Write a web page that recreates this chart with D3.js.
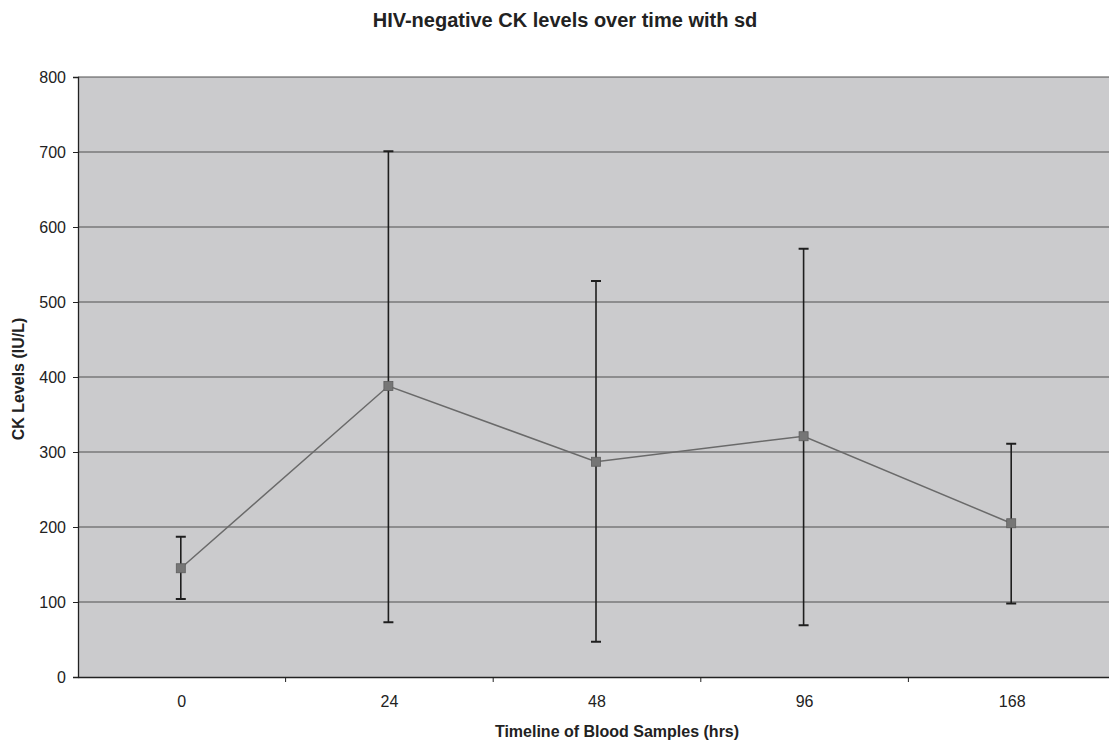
<!DOCTYPE html>
<html>
<head>
<meta charset="utf-8">
<script src="https://cdn.jsdelivr.net/npm/d3@7"></script>
<style>
  html, body { margin: 0; padding: 0; background: #fff; }
  svg { display: block; font-family: "Liberation Sans", Arial, sans-serif; }
</style>
</head>
<body>
<svg id="chart" width="1109" height="744"></svg>
<script>
const categories = ["0", "24", "48", "96", "168"];
const means = [145, 388, 287, 321, 205];
const sdUpper = [187, 701, 528, 571, 311];
const sdLower = [104, 73, 47, 69, 98];
const yTicks = [0, 100, 200, 300, 400, 500, 600, 700, 800];

const title = "HIV-negative CK levels over time with sd";
const xTitle = "Timeline of Blood Samples (hrs)";
const yTitle = "CK Levels (IU/L)";

(function () {
const svg = d3.select("#chart");
const mLeft = 78, mTop = 77, mBottom = 677;
const bandW = 207.6;
const mRight = mLeft + bandW * categories.length;

const x = d3.scaleBand().domain(categories).range([mLeft, mRight]).paddingInner(0).paddingOuter(0);
const y = d3.scaleLinear().domain([0, 800]).range([mBottom, mTop]);

// plot area background
svg.append("rect")
  .attr("x", mLeft).attr("y", mTop)
  .attr("width", mRight - mLeft).attr("height", mBottom - mTop)
  .attr("fill", "#cbcbcd");

// grid lines
svg.append("g").selectAll("line").data(yTicks.filter(d => d > 0)).join("line")
  .attr("x1", mLeft).attr("x2", mRight)
  .attr("y1", d => y(d)).attr("y2", d => y(d))
  .attr("stroke", "#505050").attr("stroke-width", 1.2);

// y axis
const yAxis = svg.append("g").attr("transform", `translate(${mLeft},0)`)
  .call(d3.axisLeft(y).tickValues(yTicks).tickSize(5).tickPadding(7).tickFormat(d3.format("d")));
yAxis.select(".domain").attr("stroke", "#222").attr("stroke-width", 1.3);
yAxis.selectAll(".tick line").attr("stroke", "#222");
yAxis.selectAll("text").attr("font-size", 16).attr("fill", "#222");

// x axis
const xAxis = svg.append("g").attr("transform", `translate(0,${mBottom})`)
  .call(d3.axisBottom(x).tickSize(0).tickPadding(19));
xAxis.select(".domain").attr("stroke", "#222").attr("stroke-width", 1.3);
xAxis.selectAll("text").attr("font-size", 16).attr("fill", "#222");
// tick marks at category boundaries
svg.append("g").selectAll("line").data(categories.slice(1)).join("line")
  .attr("x1", d => x(d)).attr("x2", d => x(d))
  .attr("y1", mBottom).attr("y2", mBottom + 5)
  .attr("stroke", "#222").attr("stroke-width", 1);

const cx = d => x(d) + x.bandwidth() / 2 - 1;

// error bars
const eb = svg.append("g");
categories.forEach((c, i) => {
  eb.append("line").attr("x1", cx(c)).attr("x2", cx(c))
    .attr("y1", y(sdUpper[i])).attr("y2", y(sdLower[i]))
    .attr("stroke", "#1e1e1e").attr("stroke-width", 1.6);
  [sdUpper[i], sdLower[i]].forEach(v => {
    eb.append("line").attr("x1", cx(c) - 5).attr("x2", cx(c) + 5)
      .attr("y1", y(v)).attr("y2", y(v))
      .attr("stroke", "#1e1e1e").attr("stroke-width", 2);
  });
});

// line
const line = d3.line().x((d, i) => cx(categories[i])).y(d => y(d));
svg.append("path").datum(means)
  .attr("d", line).attr("fill", "none")
  .attr("stroke", "#6a6a6a").attr("stroke-width", 1.5);

// markers
svg.append("g").selectAll("rect").data(means).join("rect")
  .attr("x", (d, i) => cx(categories[i]) - 4.5)
  .attr("y", d => y(d) - 4.5)
  .attr("width", 9).attr("height", 9)
  .attr("fill", "#767676").attr("stroke", "#5e5e5e").attr("stroke-width", 0.8);

// titles
svg.append("text").attr("x", 565).attr("y", 27)
  .attr("text-anchor", "middle").attr("font-size", 20).attr("font-weight", "bold")
  .attr("fill", "#222").text(title);
svg.append("text").attr("x", 617).attr("y", 737)
  .attr("text-anchor", "middle").attr("font-size", 16).attr("font-weight", "bold")
  .attr("fill", "#222").text(xTitle);
svg.append("text").attr("transform", "translate(24,379) rotate(-90)")
  .attr("text-anchor", "middle").attr("font-size", 16).attr("font-weight", "bold")
  .attr("fill", "#222").text(yTitle);
})();
</script>
</body>
</html>
